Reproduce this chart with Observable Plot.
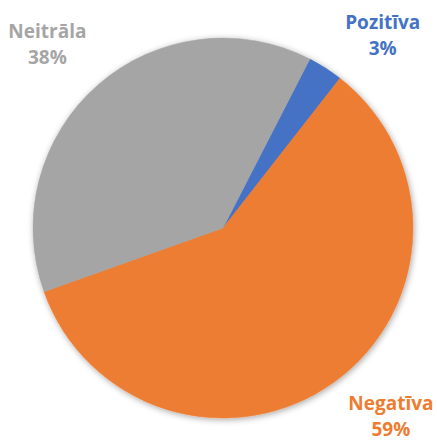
<!DOCTYPE html>
<html><head><meta charset="utf-8">
<script src="https://cdn.jsdelivr.net/npm/d3@7"></script>
<script src="https://cdn.jsdelivr.net/npm/@observablehq/plot@0.6"></script>
<style>body{margin:0;background:#fff;}</style>
</head><body><div id="chart"></div>
<script>
// ---- data ----
const categories = ["Pozitīva", "Negatīva", "Neitrāla"];
const values = [3, 59, 38];
const percentLabels = ["3%", "59%", "38%"];
const colors = ["#4472c4", "#ed7d31", "#a5a5a5"];

// ---- layout ----
const W = 437, H = 442, CX = 223, CY = 228, R = 190;
const START = 27.2 * Math.PI / 180;
const FONT_SIZE = 19, LINE_H = 1.38, FONT_FAMILY = "Open Sans";
const GAP = 20;

const data = categories.map((c, i) => ({category: c, value: values[i], label: c + "\n" + percentLabels[i]}));
const arcs = d3.pie().value(d => d.value).sort(null)
  .startAngle(START).endAngle(START + 2 * Math.PI)(data);

const ctx = document.createElement("canvas").getContext("2d");
ctx.font = `bold ${FONT_SIZE}px "${FONT_FAMILY}"`;

const labels = arcs.map(a => {
  const lines = a.data.label.split("\n");
  const hw = d3.max(lines, l => ctx.measureText(l).width) / 2;
  const hh = FONT_SIZE * LINE_H * lines.length / 2;
  const mid = (a.startAngle + a.endAngle) / 2 - 0.04;
  const ux = Math.sin(mid), uy = -Math.cos(mid);
  const d = R + GAP + Math.abs(ux) * hw + Math.abs(uy) * hh;
  let x = CX + d * ux, y = CY + d * uy;
  const ymin = hh + 7, ymax = H - hh - 2;
  const yc = Math.max(ymin, Math.min(ymax, y));
  if (yc !== y) {
    y = yc;
    const c = Math.max(-1, Math.min(1, (CY - y) / d));
    x = CX + Math.sign(ux) * d * Math.sqrt(1 - c * c);
  }
  x = Math.max(hw + 4, Math.min(W - hw - 4, x));
  return {category: a.data.category, label: a.data.label, x, y};
});

function pieMark(index, scales, values, dimensions) {
  const g = d3.create("svg:g");
  const defs = g.append("defs");
  const f = defs.append("filter").attr("id", "pieShadow")
    .attr("x", "-20%").attr("y", "-20%").attr("width", "140%").attr("height", "140%");
  f.append("feDropShadow").attr("dx", 1).attr("dy", 1.5).attr("stdDeviation", 3)
    .attr("flood-color", "#000").attr("flood-opacity", 0.35);
  const arc = d3.arc().innerRadius(0).outerRadius(R);
  const cx = scales.x ? scales.x(CX) : CX;
  const cy = scales.y ? scales.y(CY) : CY;
  const col = scales.color || (c => colors[categories.indexOf(c)]);
  const pg = g.append("g").attr("transform", `translate(${cx},${cy})`).attr("filter", "url(#pieShadow)");
  pg.selectAll("path").data(arcs).join("path")
    .attr("d", arc)
    .attr("fill", d => col(d.data.category))
    .attr("stroke", d => col(d.data.category))
    .attr("stroke-width", 0.5);
  return g.node();
}

const chart = Plot.plot({
  width: W, height: H, margin: 0,
  x: {domain: [0, W], range: [0, W], axis: null},
  y: {domain: [0, H], range: [0, H], axis: null},
  color: {domain: categories, range: colors},
  style: {background: "#fff"},
  marks: [
    pieMark,
    Plot.text(labels, {
      x: "x", y: "y", text: "label", fill: "category",
      fontSize: FONT_SIZE, fontWeight: "bold", fontFamily: FONT_FAMILY,
      lineHeight: LINE_H, textAnchor: "middle", lineAnchor: "middle"
    })
  ]
});
document.getElementById("chart").append(chart);
</script>
</body></html>
